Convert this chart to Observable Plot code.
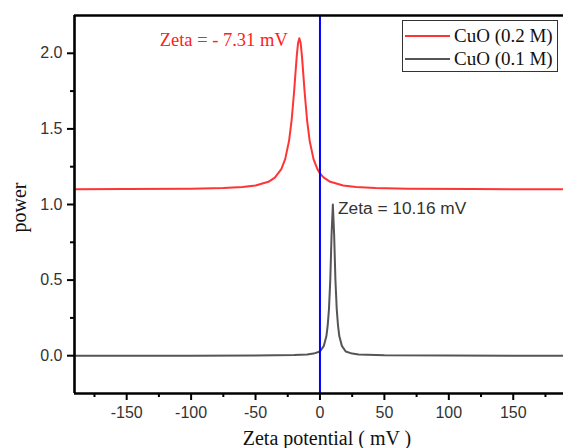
<!DOCTYPE html>
<html>
<head>
<meta charset="utf-8">
<script src="https://cdn.jsdelivr.net/npm/d3@7"></script>
<script src="https://cdn.jsdelivr.net/npm/@observablehq/plot@0.6"></script>
<style>
  html, body { margin: 0; padding: 0; background: #fff; }
  #wrap { position: relative; width: 563px; height: 448px; overflow: hidden; }
  #legend { position: absolute; left: 402px; top: 20px; width: 156px; height: 52px;
    border: 1px solid #333; background: #fff; box-sizing: border-box;
    font-family: "Liberation Serif", "Times New Roman", serif; font-size: 19px; color: #111; }
  #legend .row { position: absolute; left: 0; height: 22px; width: 100%; }
  #legend .sw { position: absolute; left: 2px; width: 45px; height: 0; border-top: 2px solid; }
  #legend .lab { position: absolute; left: 51px; white-space: nowrap; line-height: 22px; }
  g[aria-label="x-axis tick label"] text, g[aria-label="y-axis tick label"] text { fill: #333; }
</style>
</head>
<body>
<div id="wrap"></div>
<script>
// ---- data ----
const seriesNames = ["CuO (0.2 M)", "CuO (0.1 M)"];
const seriesColors = ["#ff3535", "#555555"];

const redX = [-190.5, -150, -100, -75, -60, -50, -40, -35, -30, -27, -24, -22, -20, -19, -18, -17, -16,
              -15, -14, -13, -12, -10, -8, -5, -2, 0, 3, 8, 18, 28, 43, 68, 118, 189];
const redY = [1.101, 1.102, 1.104, 1.109, 1.115, 1.126, 1.15, 1.178, 1.234, 1.30, 1.421, 1.557, 1.754, 1.871, 1.983, 2.068, 2.10,
              2.068, 1.983, 1.871, 1.754, 1.557, 1.421, 1.30, 1.234, 1.205, 1.178, 1.15, 1.126, 1.115, 1.109, 1.104, 1.102, 1.101];

const blackX = [-190.5, -100, -50, -20, -10, -5, 0, 3, 5, 6, 7, 8, 9, 10, 11, 12, 13, 14, 15, 17, 20, 25, 30, 50, 100, 189];
const blackY = [0, 0, 0.001, 0.004, 0.008, 0.014, 0.028, 0.065, 0.13, 0.2, 0.31, 0.5, 0.8, 1.0, 0.8, 0.5, 0.31, 0.2, 0.13, 0.065, 0.028, 0.014, 0.008, 0.0025, 0.0005, 0];

const xTicks = [-150, -100, -50, 0, 50, 100, 150];
const xMinor = [-175, -125, -75, -25, 25, 75, 125, 175];
const yTicks = [0.0, 0.5, 1.0, 1.5, 2.0];
const yMinor = [0.25, 0.75, 1.25, 1.75];

const annotations = [
  {x: -25, y: 2.046, text: "Zeta = - 7.31 mV", color: "#ff2020"},
  {x: 14, y: 0.94, text: "Zeta = 10.16 mV", color: "#333333"}
];

const xLabel = "Zeta potential ( mV )";
const yLabel = "power";

// ---- build ----
const red = redX.map((x, i) => ({x, y: redY[i]}));
const black = blackX.map((x, i) => ({x, y: blackY[i]}));
const serif = "'Liberation Serif', 'Times New Roman', serif";
const sans = "'Liberation Sans', Arial, sans-serif";
const xDom = [-190.5, 189], yDom = [-0.25, 2.25];

const chart = Plot.plot({
  width: 563, height: 448,
  marginLeft: 74, marginRight: 0, marginTop: 15, marginBottom: 55,
  style: {fontFamily: sans, fontSize: "16px", background: "#fff", overflow: "visible"},
  x: {domain: xDom},
  y: {domain: yDom},
  marks: [
    Plot.axisX({ticks: xTicks, tickSize: 7, tickPadding: 6, tickFormat: d => d, stroke: "#000", strokeWidth: 2, label: null}),
    Plot.axisX({ticks: xMinor, tickSize: 4, tickFormat: null, text: null, stroke: "#000", strokeWidth: 2, label: null}),
    Plot.axisY({ticks: yTicks, tickSize: 7, tickPadding: 5, tickFormat: d => d.toFixed(1), stroke: "#000", strokeWidth: 2, label: null}),
    Plot.axisY({ticks: yMinor, tickSize: 4, tickFormat: null, text: null, stroke: "#000", strokeWidth: 2, label: null}),
    Plot.line(red, {x: "x", y: "y", stroke: seriesColors[0], strokeWidth: 2}),
    Plot.line(black, {x: "x", y: "y", stroke: seriesColors[1], strokeWidth: 2}),
    Plot.ruleX([0], {y1: yDom[0], y2: yDom[1], stroke: "#0000ff", strokeWidth: 2}),
    Plot.ruleY([yDom[0]], {stroke: "#000", strokeWidth: 2.6}),
    Plot.ruleY([yDom[1]], {stroke: "#000", strokeWidth: 2.6}),
    Plot.ruleX([xDom[0]], {stroke: "#000", strokeWidth: 2.6}),
    Plot.text([annotations[0]], {x: "x", y: "y", text: "text", fill: "color", textAnchor: "end", lineAnchor: "bottom",
      fontFamily: serif, fontSize: 18.5}),
    Plot.text([annotations[1]], {x: "x", y: "y", text: "text", fill: "color", textAnchor: "start", lineAnchor: "bottom",
      fontFamily: sans, fontSize: 17.3}),
    Plot.text([xLabel], {frameAnchor: "bottom", text: d => d, dx: 8, dy: 51, lineAnchor: "bottom", textAnchor: "middle",
      fontFamily: serif, fontSize: 20, fill: "#111"}),
    Plot.text([yLabel], {frameAnchor: "left", text: d => d, dx: -55, dy: 3, rotate: -90, textAnchor: "middle", lineAnchor: "middle",
      fontFamily: serif, fontSize: 20, fill: "#111"})
  ]
});

const wrap = document.getElementById("wrap");
wrap.appendChild(chart);

// legend (overlay inside the plot area, as in the reference)
const leg = document.createElement("div");
leg.id = "legend";
seriesNames.forEach((name, i) => {
  const row = document.createElement("div");
  row.className = "row";
  row.style.top = (3 + i * 23) + "px";
  const sw = document.createElement("div");
  sw.className = "sw";
  sw.style.top = "11px";
  sw.style.borderTopColor = seriesColors[i];
  const lab = document.createElement("div");
  lab.className = "lab";
  lab.style.top = "1px";
  lab.textContent = name;
  row.appendChild(sw); row.appendChild(lab);
  leg.appendChild(row);
});
wrap.appendChild(leg);
</script>
</body>
</html>
